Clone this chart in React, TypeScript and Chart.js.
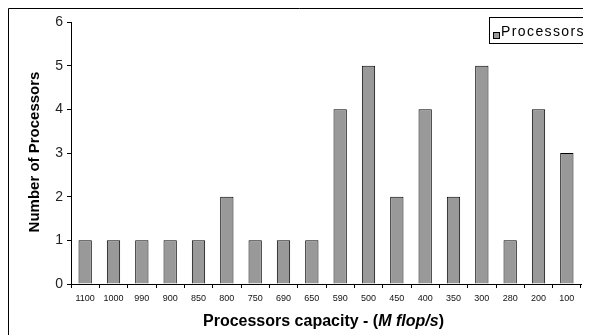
import React, { useEffect, useRef } from "react";
import { Chart, registerables } from "chart.js";

Chart.register(...registerables);

const categories = ["1100", "1000", "990", "900", "850", "800", "750", "690", "650", "590", "500", "450", "400", "350", "300", "280", "200", "100"];
const processors = [1, 1, 1, 1, 1, 2, 1, 1, 1, 4, 5, 2, 4, 2, 5, 1, 4, 3];
const seriesLabel = "Processors";
const xTitleMain = "Processors capacity - (";
const xTitleItalic = "M flop/s";
const xTitleEnd = ")";
const yTitle = "Number of Processors";

const FONT = "'Liberation Sans', Arial, sans-serif";

const decor = {
  id: "decor",
  afterDraw(chart: any) {
    const ctx = chart.ctx;
    ctx.save();
    // frame (left and top edges)
    ctx.strokeStyle = "#000";
    ctx.lineWidth = 1;
    ctx.beginPath();
    ctx.moveTo(0.5, chart.height);
    ctx.lineTo(0.5, 0.5);
    ctx.lineTo(chart.width, 0.5);
    ctx.stroke();

    // x title with mixed styles
    const y = 314;
    const boldF = `bold 16px ${FONT}`;
    const italF = `italic bold 16px ${FONT}`;
    ctx.font = boldF;
    const w1 = ctx.measureText(xTitleMain).width;
    ctx.font = italF;
    const w2 = ctx.measureText(xTitleItalic).width;
    let x = 195;
    ctx.fillStyle = "#000";
    ctx.textBaseline = "middle";
    ctx.textAlign = "left";
    ctx.font = boldF;
    ctx.fillText(xTitleMain, x, y);
    x += w1;
    ctx.font = italF;
    ctx.fillText(xTitleItalic, x, y);
    x += w2;
    ctx.font = boldF;
    ctx.fillText(xTitleEnd, x, y);

    // y title
    ctx.save();
    ctx.translate(27, 144);
    ctx.rotate(-Math.PI / 2);
    ctx.font = `bold 15px ${FONT}`;
    ctx.textAlign = "center";
    ctx.textBaseline = "middle";
    ctx.fillText(yTitle, 0, 0);
    ctx.restore();

    // legend
    const lx = 481, ly = 9, lh = 26;
    ctx.fillStyle = "#fff";
    ctx.fillRect(lx, ly, chart.width - lx + 5, lh);
    ctx.strokeStyle = "#000";
    ctx.strokeRect(lx + 0.5, ly + 0.5, chart.width - lx + 5, lh);
    ctx.fillStyle = "#999999";
    ctx.fillRect(485.5, 24.5, 6, 6);
    ctx.strokeRect(485.5, 24.5, 6, 6);
    ctx.fillStyle = "#000";
    ctx.font = `14px ${FONT}`;
    (ctx as any).letterSpacing = "1.4px";
    ctx.textAlign = "left";
    ctx.textBaseline = "middle";
    ctx.fillText(chart.data.datasets[0].label, 493, 24);
    ctx.restore();
  },
};

export default function App() {
  const ref = useRef<HTMLCanvasElement>(null);
  useEffect(() => {
    const chart = new Chart(ref.current!, {
      type: "bar",
      data: {
        labels: categories,
        datasets: [
          {
            label: seriesLabel,
            data: processors,
            backgroundColor: "#999999",
            borderColor: "#000",
            borderWidth: 1,
            categoryPercentage: 1,
            barPercentage: 0.47,
          },
        ],
      },
      options: {
        animation: false,
        responsive: false,
        maintainAspectRatio: false,
        layout: { padding: { left: 0, right: 10, top: 14, bottom: 0 } },
        plugins: { legend: { display: false }, tooltip: { enabled: false } },
        scales: {
          x: {
            offset: true,
            grid: { display: true, drawOnChartArea: false, offset: true, tickLength: 4, color: "#000" },
            border: { display: true, color: "#000", width: 1 },
            ticks: { color: "#111", font: { family: FONT, size: 9 }, padding: 5, maxRotation: 0, autoSkip: false },
            afterFit: (s: any) => { s.height = 51; },
          },
          y: {
            min: 0,
            max: 6,
            grid: { display: true, drawOnChartArea: false, tickLength: 4, color: "#000" },
            border: { display: true, color: "#000", width: 1 },
            ticks: { stepSize: 1, color: "#222", font: { family: FONT, size: 14 }, padding: 4 },
            afterFit: (s: any) => { s.width = 63; },
          },
        },
      },
      plugins: [decor],
    });
    return () => chart.destroy();
  }, []);
  return (
    <div style={{ width: 583, height: 327 }}>
      <canvas ref={ref} width={583} height={327} style={{ display: "block" }} />
    </div>
  );
}
